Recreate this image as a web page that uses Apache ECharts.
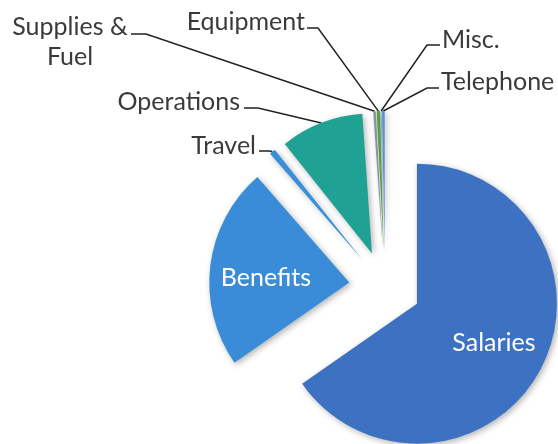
<!DOCTYPE html>
<html>
<head>
<meta charset="utf-8">
<script src="https://cdn.jsdelivr.net/npm/echarts@6/dist/echarts.min.js"></script>
<style>
html, body { margin: 0; padding: 0; background: #fff; }
#chart { width: 558px; height: 444px; }
</style>
</head>
<body>
<div id="chart"></div>
<script>
// 类目与数值 (占比 %, 从图上估读)
let categories = ['Salaries', 'Benefits', 'Travel', 'Operations', 'Supplies &\nFuel', 'Equipment', 'Misc.', 'Telephone'];
let values = [65.3, 23.3, 0.7, 9.6, 0.3, 0.4, 0.1, 0.3];
let colors = ['#3d72c3', '#3a8cd8', '#3a90d8', '#1fa194', '#8c9aa8', '#5aa44e', '#9aa6b2', '#5b8fd6'];

let pieCenter = [385, 287];
let explode = 36; // 分离距离

// 标签摆放 (像素): 文字位置 + 引线折点
let labelSpots = [
    { x: 494, y: 343, align: 'center', inside: true },
    { x: 266, y: 278, align: 'center', inside: true },
    { x: 256, y: 146, align: 'right', bend: [270, 151], end: [259, 151] },
    { x: 240, y: 102, align: 'right', bend: [258, 108], end: [244, 108] },
    { x: 70, y: 42, align: 'center', bend: [146, 34], end: [131, 34] },
    { x: 305, y: 22, align: 'right', bend: [318, 28], end: [307, 28] },
    { x: 442, y: 40, align: 'left', bend: [427, 45], end: [440, 45] },
    { x: 441, y: 82, align: 'left', bend: [427, 88], end: [439, 88] }
];

let total = values.reduce((a, b) => a + b, 0);

// 每个扇区单独一个系列, 沿角平分线偏移, 模拟分离饼图
let seriesList = [];
let acc = 0;
values.forEach((v, i) => {
    let mid = (acc + v / 2) / total * Math.PI * 2;
    acc += v;
    let spot = labelSpots[i];
    seriesList.push({
        type: 'pie',
        center: [pieCenter[0] + explode * Math.sin(mid), pieCenter[1] - explode * Math.cos(mid)],
        radius: 140,
        startAngle: 90,
        clockwise: true,
        avoidLabelOverlap: false,
        silent: true,
        z: i === 0 ? 3 : 2,
        label: {
            fontFamily: 'Lato',
            fontSize: 25,
            lineHeight: 30
        },
        labelLine: {
            length: 10,
            length2: 10,
            lineStyle: { color: '#222', width: 1.5 }
        },
        labelLayout: function (params) {
            if (params.dataIndex !== i) {
                return {};
            }
            let res = {
                x: spot.x,
                y: spot.y,
                align: spot.align,
                verticalAlign: 'middle'
            };
            if (!spot.inside && params.labelLinePoints) {
                res.labelLinePoints = [params.labelLinePoints[0], spot.bend, spot.end];
            }
            return res;
        },
        data: categories.map((name, j) => {
            if (j !== i) {
                return {
                    name: name,
                    value: values[j],
                    itemStyle: { color: 'rgba(0,0,0,0)' },
                    label: { show: false },
                    labelLine: { show: false }
                };
            }
            return {
                name: name,
                value: values[j],
                itemStyle: {
                    color: colors[j],
                    shadowBlur: 6,
                    shadowColor: 'rgba(0, 0, 0, 0.3)',
                    shadowOffsetX: 2,
                    shadowOffsetY: 2
                },
                label: spot.inside
                    ? { show: true, position: 'inside', color: '#fff' }
                    : { show: true, position: 'outside', color: '#3a3a3a' },
                labelLine: { show: !spot.inside }
            };
        })
    });
});

let myChart = echarts.init(document.getElementById('chart'));

let option = {
    animation: false,
    series: seriesList
};

myChart.setOption(option, true);
</script>
</body>
</html>
